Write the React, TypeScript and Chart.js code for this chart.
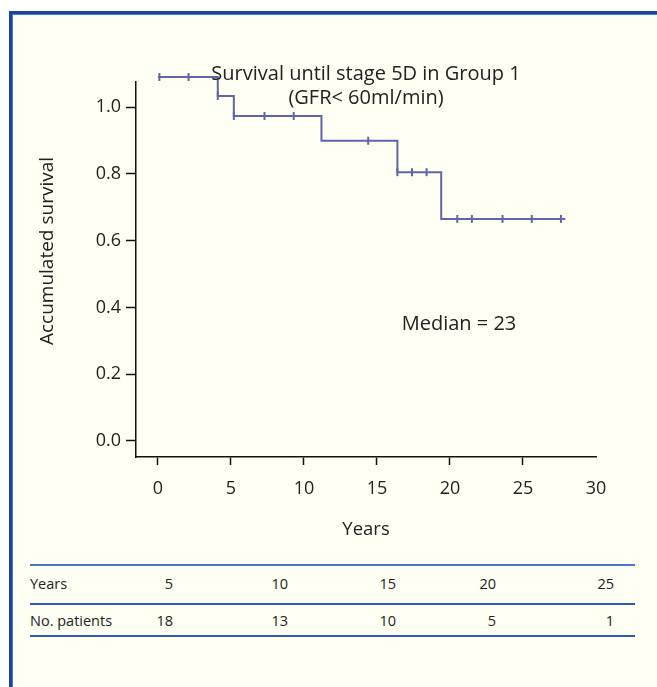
import React, { useEffect, useRef } from "react";
import { Chart, registerables } from "chart.js";

Chart.register(...registerables);

// ---- data ----
const stepTimes = [0, 4.1, 5.2, 11.2, 16.4, 19.4, 27.9];
const stepSurvival = [1.09, 1.033, 0.973, 0.899, 0.805, 0.665, 0.665];
const censorTimes = [0.1, 2.1, 4.1, 5.2, 7.3, 9.3, 14.4, 16.4, 17.4, 18.4, 20.5, 21.5, 23.6, 25.6, 27.6];
const censorSurvival = [1.09, 1.09, 1.033, 0.973, 0.973, 0.973, 0.899, 0.805, 0.805, 0.805, 0.665, 0.665, 0.665, 0.665, 0.665];
const xTicks = [0, 5, 10, 15, 20, 25, 30];
const yTicks = [0, 0.2, 0.4, 0.6, 0.8, 1.0];
const titleLines = ["Survival until stage 5D in Group 1", "(GFR< 60ml/min)"];
const medianText = "Median = 23";
const xTitle = "Years";
const yTitle = "Accumulated survival";
const tableYears = [5, 10, 15, 20, 25];
const tablePatients = [18, 13, 10, 5, 1];
const tableRowLabels = ["Years", "No. patients"];

// ---- layout ----
const FONT = '"Open Sans", "Noto Sans", sans-serif';
const TEXT = "#222";
const CURVE = "#5d67a8";
const tableColRight = [173, 288, 396, 496, 614];

const textPlugin = {
  id: "kmTexts",
  afterDatasetsDraw(chart: any) {
    const ctx = chart.ctx;
    const { left, right } = chart.chartArea;
    ctx.save();
    ctx.fillStyle = TEXT;
    ctx.textBaseline = "alphabetic";
    ctx.textAlign = "center";
    ctx.font = `20px ${FONT}`;
    const cx = (left + right) / 2;
    ctx.fillText(titleLines[0], cx, 80);
    ctx.fillText(titleLines[1], cx, 104);
    ctx.fillText(medianText, 459, 330);
    ctx.font = `19px ${FONT}`;
    ctx.translate(53, 251);
    ctx.rotate(-Math.PI / 2);
    ctx.fillText(yTitle, 0, 0);
    ctx.restore();
  },
};

function KMChart() {
  const ref = useRef<HTMLCanvasElement | null>(null);
  useEffect(() => {
    if (!ref.current) return;
    const chart = new Chart(ref.current, {
      type: "line",
      data: {
        datasets: [
          {
            type: "line",
            data: stepTimes.map((t, i) => ({ x: t, y: stepSurvival[i] })),
            borderColor: CURVE,
            borderWidth: 2,
            stepped: "before",
            pointRadius: 0,
            fill: false,
            clip: false as any,
          },
          {
            type: "scatter",
            data: censorTimes.map((t, i) => ({ x: t, y: censorSurvival[i] })),
            showLine: false,
            pointStyle: "line",
            rotation: 90,
            pointRadius: 4,
            pointBorderWidth: 2,
            borderColor: CURVE,
            backgroundColor: CURVE,
            clip: false as any,
          } as any,
        ],
      },
      options: {
        animation: false,
        responsive: false,
        events: [],
        layout: { padding: { left: 0, top: 82, right: 61, bottom: 0 } },
        plugins: { legend: { display: false }, tooltip: { enabled: false } },
        scales: {
          x: {
            type: "linear",
            min: -1.5,
            max: 30,
            afterBuildTicks: (s: any) => {
              s.ticks = xTicks.map((v) => ({ value: v }));
            },
            afterFit: (s: any) => {
              s.height = 103;
              s.paddingLeft = 0;
              s.paddingRight = 0;
              s.paddingTop = 0;
              s.paddingBottom = 0;
            },
            grid: {
              drawOnChartArea: false,
              drawTicks: true,
              tickLength: 8,
              tickWidth: 1.5,
              tickColor: (c: any) => (c.tick && c.tick.value === 30 ? "rgba(0,0,0,0)" : "#111"),
            },
            border: { display: true, color: "#111", width: 1.5 },
            ticks: {
              color: TEXT,
              font: { family: FONT, size: 18 },
              padding: 13,
              maxRotation: 0,
              autoSkip: false,
              callback: (v: any) => String(v),
            },
            title: {
              display: true,
              text: xTitle,
              color: TEXT,
              font: { family: FONT, size: 18.5 },
              padding: { top: 0, bottom: 19 },
            },
          },
          y: {
            type: "linear",
            min: -0.048,
            max: 1.075,
            afterBuildTicks: (s: any) => {
              s.ticks = yTicks.map((v) => ({ value: v }));
            },
            afterFit: (s: any) => {
              s.width = 136;
              s.paddingLeft = 0;
              s.paddingRight = 0;
              s.paddingTop = 0;
              s.paddingBottom = 0;
            },
            grid: {
              drawOnChartArea: false,
              drawTicks: true,
              tickLength: 10,
              tickWidth: 1.5,
              tickColor: "#111",
            },
            border: { display: true, color: "#111", width: 1.5 },
            ticks: {
              color: TEXT,
              font: { family: FONT, size: 18 },
              padding: 5,
              autoSkip: false,
              callback: (v: any) => Number(v).toFixed(1),
            },
          },
        },
      },
      plugins: [textPlugin],
    } as any);
    return () => chart.destroy();
  }, []);
  return (
    <canvas
      ref={ref}
      width={657}
      height={560}
      style={{ position: "absolute", left: 0, top: 0, width: 657, height: 560 }}
    />
  );
}

const lineStyle = (top: number, color: string): React.CSSProperties => ({
  position: "absolute",
  left: 30,
  top,
  width: 605,
  height: 2,
  background: color,
});

export default function App() {
  const cell = (text: string | number, right: number, center: number): React.CSSProperties => ({
    position: "absolute",
    left: right - 80,
    width: 80,
    top: center - 10,
    height: 20,
    lineHeight: "20px",
    textAlign: "right",
  });
  return (
    <div
      style={{
        position: "fixed",
        left: 0,
        top: 0,
        width: 657,
        height: 687,
        overflow: "hidden",
        background: "#ffffff",
        fontFamily: FONT,
        color: TEXT,
      }}
    >
      <div
        style={{
          position: "absolute",
          left: 9,
          top: 11,
          width: 700,
          height: 720,
          borderLeft: "3px solid #1a42a0",
          borderTop: "3px solid #1a42a0",
          boxShadow: "inset 1px 1px 0 #4d78c8",
          background: "#fffff3",
        }}
      />
      <KMChart />
      <div style={lineStyle(564, "#4a76c2")} />
      <div style={lineStyle(603, "#2e5ab4")} />
      <div style={lineStyle(635, "#2e5ab4")} />
      <div style={{ position: "absolute", left: 30, top: 574, height: 20, lineHeight: "20px", fontSize: 14.5 }}>
        {tableRowLabels[0]}
      </div>
      <div style={{ position: "absolute", left: 30, top: 611, height: 20, lineHeight: "20px", fontSize: 14.5 }}>
        {tableRowLabels[1]}
      </div>
      {tableYears.map((v, i) => (
        <div key={"y" + i} style={{ ...cell(v, tableColRight[i], 584), fontSize: 14.5 }}>
          {v}
        </div>
      ))}
      {tablePatients.map((v, i) => (
        <div key={"p" + i} style={{ ...cell(v, tableColRight[i], 621), fontSize: 14.5 }}>
          {v}
        </div>
      ))}
    </div>
  );
}
